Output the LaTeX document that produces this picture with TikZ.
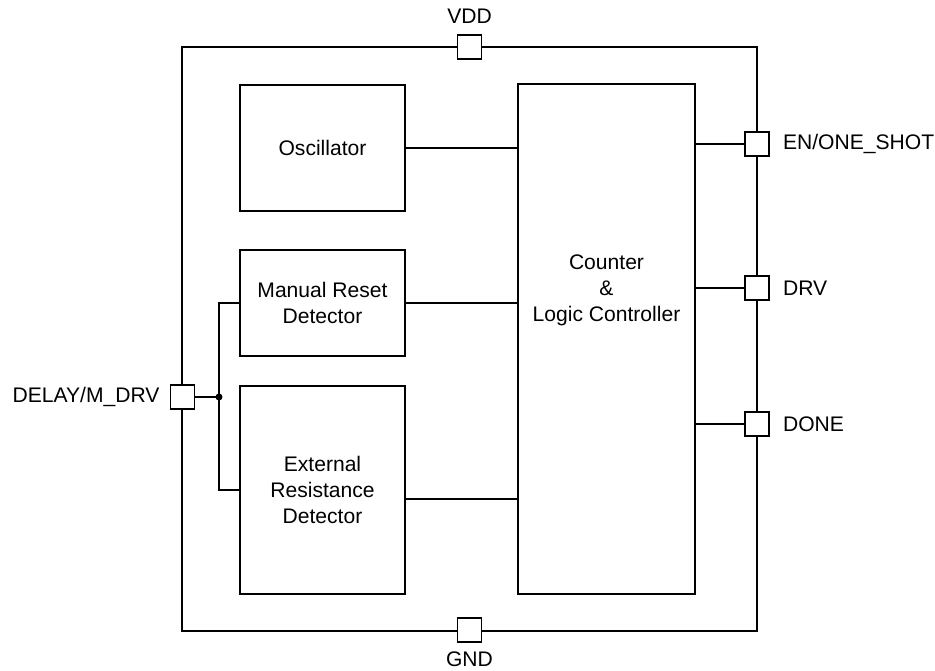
\documentclass[tikz,border=0pt]{standalone}
\usepackage{fontspec}
\setmainfont{Liberation Sans}
\usetikzlibrary{positioning,calc}

\begin{document}
\begin{tikzpicture}[
    x=0.02cm,y=-0.02cm,
    font=\fontsize{12}{14.8}\selectfont,
    chip/.style={draw,line width=1.1pt,minimum width=11.5cm,
                 minimum height=11.68cm,inner sep=0pt},
    blk/.style={draw,line width=0.75pt,fill=white,align=center,inner sep=0pt},
    pinbox/.style={draw,line width=0.8pt,fill=white,minimum size=0.48cm,inner sep=0pt},
    wire/.style={line width=0.75pt},
    lbl/.style={inner sep=0pt,align=center}
  ]
  \useasboundingbox (0,0) rectangle (935,670);

  % package outline
  \node[chip] (chip) at (469.5,339) {};

  % internal blocks
  \node[blk,minimum width=3.3cm,minimum height=2.52cm] (osc) at (322.5,148) {Oscillator};
  \node[blk,minimum width=3.3cm,minimum height=2.12cm] (mrd) at (322.5,303) {Manual Reset\\Detector};
  \node[blk,minimum width=3.3cm,minimum height=4.16cm] (erd) at (322.5,490) {External\\Resistance\\Detector};
  \node[blk,minimum width=3.54cm,minimum height=10.2cm] (ctr) at (606.5,339) {};
  \node[lbl] (ctrtxt) at (606.5,290) {Counter\\\&\\Logic Controller};

  % pins
  \node[pinbox] (pvdd)  at (469.5,47)  {};
  \node[pinbox] (pgnd)  at (469.5,630) {};
  \node[pinbox] (pen)   at (757,144)   {};
  \node[pinbox] (pdrv)  at (757,288)   {};
  \node[pinbox] (pdone) at (757,424)   {};
  \node[pinbox] (pdly)  at (182.5,397) {};

  \node[lbl,above=0.2cm of pvdd]   (lvdd)  {VDD};
  \node[lbl,below=0.18cm of pgnd]  (lgnd)  {GND};
  \node[lbl,right=0.26cm of pen]   (len)   {EN/ONE\_SHOT};
  \node[lbl,right=0.26cm of pdrv]  (ldrv)  {DRV};
  \node[lbl,right=0.26cm of pdone] (ldone) {DONE};
  \node[lbl,left=0.2cm of pdly]    (ldly)  {DELAY/M\_DRV};

  % block to controller
  \coordinate (erdo) at ($(erd.east)+(0,9)$);
  \draw[wire] (osc.east) -- (osc.east -| ctr.west);
  \draw[wire] (mrd.east) -- (mrd.east -| ctr.west);
  \draw[wire] (erdo) -- (erdo -| ctr.west);

  % controller to pins
  \draw[wire] (pen -| ctr.east) -- (pen);
  \draw[wire] (pdrv -| ctr.east) -- (pdrv);
  \draw[wire] (pdone -| ctr.east) -- (pdone);

  % delay pin
  \coordinate (jn) at (219,397);
  \draw[wire] (pdly) -- (jn);
  \draw[wire] (mrd.west) -| (jn) |- (erd.west);
  \fill (jn) circle[radius=0.07cm];

\end{tikzpicture}
\end{document}
